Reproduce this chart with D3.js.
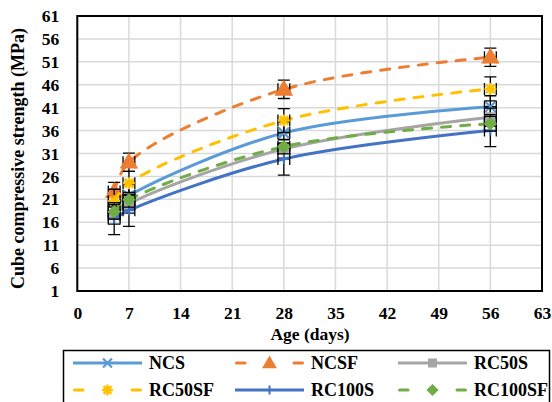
<!DOCTYPE html>
<html>
<head>
<meta charset="utf-8">
<script src="https://cdn.jsdelivr.net/npm/d3@7/dist/d3.min.js"></script>
<style>
  html, body { margin: 0; padding: 0; background: #fff; }
  svg { display: block; font-family: "Liberation Serif", "Times New Roman", serif; font-weight: bold; }
</style>
</head>
<body>
<svg id="chart" width="552" height="402"></svg>
<script>
// Curing ages (days)
const ages = [5, 7, 28, 56];

// Mean cube compressive strength (MPa) per mix
const seriesNames = ["NCS", "NCSF", "RC50S", "RC50SF", "RC100S", "RC100SF"];
const NCS     = [19.3, 21.8, 35.5, 41.2];
const NCSF    = [22.7, 29.1, 45.0, 52.0];
const RC50S   = [17.6, 20.0, 32.0, 38.9];
const RC50SF  = [20.6, 24.5, 38.2, 45.1];
const RC100S  = [16.8, 18.6, 29.8, 36.0];
const RC100SF = [18.3, 20.9, 32.5, 37.5];

// Error magnitudes (MPa) and horizontal error (days)
const yErr = [2.4, 2.0, 2.0, 2.6, 3.5, 1.6];
const xErr = 0.8;

// Tick labels
const xTicks = [0, 7, 14, 21, 28, 35, 42, 49, 56, 63];
const yTicks = [1, 6, 11, 16, 21, 26, 31, 36, 41, 46, 51, 56, 61];

const values = [NCS, NCSF, RC50S, RC50SF, RC100S, RC100SF];
const colors = ["#5B9BD5", "#ED7D31", "#A5A5A5", "#FFC000", "#4472C4", "#70AD47"];
const dashed = [false, true, false, true, false, true];
const markers = ["x", "triangle", "square", "asterisk", "plus", "diamond"];

const svg = d3.select("#chart");
svg.append("rect").attr("width", 552).attr("height", 402).attr("fill", "#fff");

const x = d3.scaleLinear().domain([0, 63]).range([77.3, 542]);
const y = d3.scaleLinear().domain([1, 61]).range([291, 16]);

// Gridlines
const grid = svg.append("g");
grid.selectAll("line.h").data(yTicks).join("line")
  .attr("x1", x(0)).attr("x2", x(63))
  .attr("y1", d => y(d)).attr("y2", d => y(d))
  .attr("stroke", "#d9d9d9").attr("stroke-width", 1.5);
grid.selectAll("line.v").data(xTicks).join("line")
  .attr("y1", y(1)).attr("y2", y(61))
  .attr("x1", d => x(d)).attr("x2", d => x(d))
  .attr("stroke", "#d9d9d9").attr("stroke-width", 1.5);

// Axes (labels only, lines are drawn by the plot frame)
const xAxis = svg.append("g").attr("transform", `translate(0,${y(1)})`)
  .call(d3.axisBottom(x).tickValues(xTicks).tickSize(0).tickPadding(16));
const yAxis = svg.append("g").attr("transform", `translate(${x(0)},0)`)
  .call(d3.axisLeft(y).tickValues(yTicks).tickSize(0).tickPadding(18));
[xAxis, yAxis].forEach(a => {
  a.select(".domain").remove();
  a.selectAll("text").attr("font-family", "Liberation Serif, Times New Roman, serif")
    .attr("font-weight", "bold").attr("font-size", 17.5).attr("fill", "#000");
});

// Plot frame
svg.append("rect")
  .attr("x", x(0)).attr("y", y(61))
  .attr("width", x(63) - x(0)).attr("height", y(1) - y(61))
  .attr("fill", "none").attr("stroke", "#000").attr("stroke-width", 2);

// Axis titles
svg.append("text").attr("x", 310).attr("y", 340).attr("text-anchor", "middle")
  .attr("font-size", 17.5).text("Age (days)");
svg.append("text")
  .attr("transform", `translate(24,${(y(1) + y(61)) / 2 + 5}) rotate(-90)`)
  .attr("text-anchor", "middle").attr("font-size", 18)
  .text("Cube compressive strength (MPa)");

// Marker drawing
function drawMarker(g, type, color, size) {
  const s = size;
  if (type === "x") {
    g.append("path").attr("d", `M${-s},${-s}L${s},${s}M${-s},${s}L${s},${-s}`)
      .attr("stroke", color).attr("stroke-width", 2.2).attr("fill", "none");
  } else if (type === "triangle") {
    g.append("path").attr("d", d3.symbol(d3.symbolTriangle, 6 * s * s)())
      .attr("fill", color).attr("transform", "translate(0,1)");
  } else if (type === "square") {
    g.append("rect").attr("x", -s).attr("y", -s).attr("width", 2 * s).attr("height", 2 * s)
      .attr("fill", color);
  } else if (type === "asterisk") {
    const r = s * 1.2;
    let d = `M${-r},0L${r},0M0,${-r}L0,${r}`;
    const k = r * 0.72;
    d += `M${-k},${-k}L${k},${k}M${-k},${k}L${k},${-k}`;
    g.append("path").attr("d", d).attr("stroke", color).attr("stroke-width", 2.4).attr("fill", "none");
  } else if (type === "plus") {
    g.append("path").attr("d", `M${-s},0L${s},0M0,${-s}L0,${s}`)
      .attr("stroke", color).attr("stroke-width", 2).attr("fill", "none");
  } else if (type === "diamond") {
    const r = s * 1.35;
    g.append("path").attr("d", `M0,${-r}L${r},0L0,${r}L${-r},0Z`).attr("fill", color);
  }
}

const line = d3.line().x(d => x(d[0])).y(d => y(d[1])).curve(d3.curveCatmullRom.alpha(0.5));
const plot = svg.append("g");
const cap = 6;

seriesNames.forEach((name, i) => {
  const pts = ages.map((a, j) => [a, values[i][j]]);
  const g = plot.append("g");
  // smoothed line
  g.append("path").datum(pts).attr("d", line)
    .attr("fill", "none").attr("stroke", colors[i]).attr("stroke-width", 3)
    .attr("stroke-linecap", dashed[i] ? "round" : "butt")
    .attr("stroke-dasharray", dashed[i] ? "9,10" : null);
  // error bars
  pts.forEach(p => {
    const cx = x(p[0]), cy = y(p[1]);
    const yt = y(p[1] + yErr[i]), yb = y(p[1] - yErr[i]);
    const xl = x(p[0] - xErr), xr = x(p[0] + xErr);
    const d = `M${cx},${yt}L${cx},${yb}M${cx - cap},${yt}L${cx + cap},${yt}M${cx - cap},${yb}L${cx + cap},${yb}` +
              `M${xl},${cy}L${xr},${cy}M${xl},${cy - cap}L${xl},${cy + cap}M${xr},${cy - cap}L${xr},${cy + cap}`;
    g.append("path").attr("d", d).attr("stroke", "#000").attr("stroke-width", 1.3).attr("fill", "none");
  });
  // markers
  pts.forEach(p => {
    const mg = g.append("g").attr("transform", `translate(${x(p[0])},${y(p[1])})`);
    drawMarker(mg, markers[i], colors[i], 5);
  });
});

// Legend
const legend = svg.append("g");
legend.append("rect").attr("x", 63.5).attr("y", 350.5).attr("width", 486).attr("height", 70)
  .attr("fill", "#fff").attr("stroke", "#000").attr("stroke-width", 1.5);
const colX = [73, 235, 398];
const rowY = [363, 390];
seriesNames.forEach((name, i) => {
  const cx = colX[i % 3], cy = rowY[Math.floor(i / 3)];
  const item = legend.append("g");
  const segs = dashed[i] ? [[cx + 1.5, cx + 10], [cx + 59, cx + 67.5]] : [[cx, cx + 69]];
  segs.forEach(s => {
    item.append("line").attr("x1", s[0]).attr("x2", s[1]).attr("y1", cy).attr("y2", cy)
      .attr("stroke", colors[i]).attr("stroke-width", 3)
      .attr("stroke-linecap", dashed[i] ? "round" : "butt");
  });
  const mg = item.append("g").attr("transform", `translate(${cx + 34.5},${cy})`);
  drawMarker(mg, markers[i], colors[i], markers[i] === "triangle" ? 4 : 4.5);
  item.append("text").attr("x", cx + 76).attr("y", cy + 6).attr("font-size", 18).text(name);
});
</script>
</body>
</html>
